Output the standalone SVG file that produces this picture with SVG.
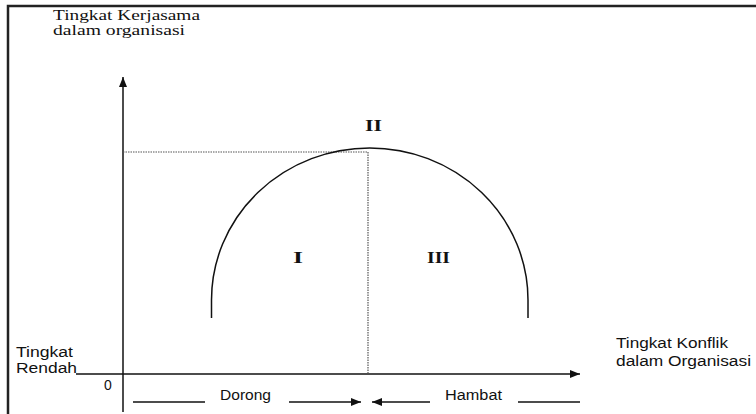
<svg xmlns="http://www.w3.org/2000/svg" width="756" height="414" viewBox="0 0 756 414">
<defs>
<style>
.serif{font-family:"Liberation Serif","Times New Roman",serif;font-size:15px;fill:#111}
.sans{font-family:"Liberation Sans",Arial,sans-serif;font-size:14px;fill:#111}
.num{font-family:"Liberation Serif","Times New Roman",serif;font-size:16px;font-weight:bold;fill:#111}
.ax{stroke:#111;stroke-width:1.5;fill:none}
.dot{stroke:#555;stroke-width:1.2;stroke-dasharray:1.5 1;fill:none}
</style>
<marker id="ah" viewBox="0 0 10 8" refX="10" refY="4" markerWidth="10" markerHeight="8" markerUnits="userSpaceOnUse" orient="auto">
<path d="M0,0 L10,4 L0,8 Z" fill="#111"/>
</marker>
</defs>
<rect width="756" height="414" fill="#fff"/>
<g id="frame">
<path d="M8,414 L8,6 L756,6" stroke="#222" stroke-width="2.5" fill="none"/>
</g>
<g id="connectors">
<line class="ax" x1="123" y1="412" x2="123" y2="77" marker-end="url(#ah)"/>
<line class="ax" x1="76" y1="374" x2="580" y2="374" marker-end="url(#ah)"/>
<line class="dot" x1="123" y1="152" x2="368" y2="152"/>
<line class="dot" x1="368" y1="152" x2="368" y2="374"/>
<path class="ax" d="M211.5,318 L211.5,300 A158.25,152 0 0,1 528,300 L528,318" stroke-width="1.4"/>
<line class="ax" x1="133" y1="402" x2="205" y2="402" stroke-width="1.2"/>
<line class="ax" x1="289" y1="402" x2="361" y2="402" stroke-width="1.2" marker-end="url(#ah)"/>
<line class="ax" x1="430" y1="402" x2="372" y2="402" stroke-width="1.2" marker-end="url(#ah)"/>
<line class="ax" x1="518" y1="402" x2="580" y2="402" stroke-width="1.2"/>
</g>
<g id="label-yaxis">
<text class="serif" font-family="Liberation Serif, serif" x="53" y="20" textLength="147" lengthAdjust="spacingAndGlyphs">Tingkat Kerjasama</text>
<text class="serif" font-family="Liberation Serif, serif" x="53" y="35" textLength="132" lengthAdjust="spacingAndGlyphs">dalam organisasi</text>
</g>
<g id="label-low">
<text class="sans" x="16" y="357" textLength="57" lengthAdjust="spacingAndGlyphs">Tingkat</text>
<text class="sans" x="16" y="373" textLength="61" lengthAdjust="spacingAndGlyphs">Rendah</text>
</g>
<g id="label-origin">
<text class="sans" x="104" y="390" font-size="15">0</text>
</g>
<g id="label-xaxis">
<text class="sans" x="616" y="348" textLength="112" lengthAdjust="spacingAndGlyphs">Tingkat Konflik</text>
<text class="sans" x="616" y="366" textLength="135" lengthAdjust="spacingAndGlyphs">dalam Organisasi</text>
</g>
<g id="region-I">
<text class="num" x="293" y="263" textLength="10" lengthAdjust="spacingAndGlyphs">I</text>
</g>
<g id="region-II">
<text class="num" x="365" y="131" textLength="17" lengthAdjust="spacingAndGlyphs">II</text>
</g>
<g id="region-III">
<text class="num" x="427" y="263" textLength="23" lengthAdjust="spacingAndGlyphs">III</text>
</g>
<g id="label-dorong">
<text class="sans" x="220" y="400" textLength="51" lengthAdjust="spacingAndGlyphs">Dorong</text>
</g>
<g id="label-hambat">
<text class="sans" x="445" y="400" textLength="57" lengthAdjust="spacingAndGlyphs">Hambat</text>
</g>
</svg>
